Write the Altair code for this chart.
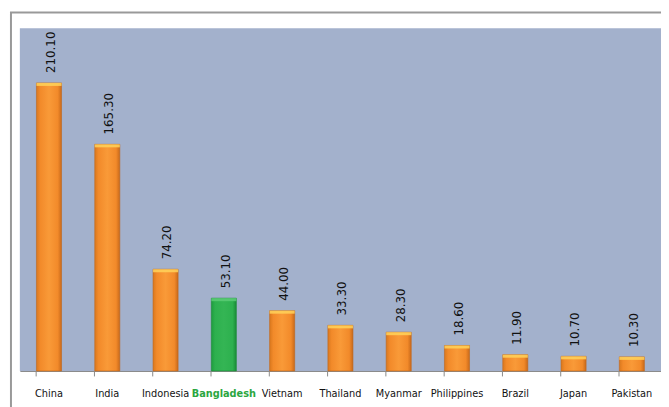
import altair as alt
import pandas as pd

countries = ["China", "India", "Indonesia", "Bangladesh", "Vietnam", "Thailand",
             "Myanmar", "Philippines", "Brazil", "Japan", "Pakistan"]
values = [210.10, 165.30, 74.20, 53.10, 44.00, 33.30, 28.30, 18.60, 11.90, 10.70, 10.30]
highlight = "Bangladesh"

df = pd.DataFrame({"country": countries, "value": values})
df["label"] = df["value"].map(lambda v: f"{v:.2f}")
df["hl"] = df["country"] == highlight

W, H = 649, 347

orange = {"gradient": "linear", "x1": 0, "x2": 1, "y1": 0, "y2": 0,
          "stops": [{"offset": 0, "color": "#D9781E"},
                    {"offset": 0.15, "color": "#F28A2A"},
                    {"offset": 0.5, "color": "#F99A38"},
                    {"offset": 0.85, "color": "#F28A2A"},
                    {"offset": 1, "color": "#C8691A"}]}
green = {"gradient": "linear", "x1": 0, "x2": 1, "y1": 0, "y2": 0,
         "stops": [{"offset": 0, "color": "#1E9C3E"},
                   {"offset": 0.15, "color": "#2DB04E"},
                   {"offset": 0.5, "color": "#34B554"},
                   {"offset": 0.85, "color": "#2DB04E"},
                   {"offset": 1, "color": "#1A8A36"}]}

xscale = alt.Scale(domain=countries, paddingInner=0.57, paddingOuter=0.285)
yscale = alt.Scale(domain=[0, 250], nice=False)

x = alt.X("country:N", sort=countries, scale=xscale, title=None,
          axis=alt.Axis(labelAngle=0, bandPosition=0, ticks=True, tickSize=5,
                        tickColor="#888888", domainColor="#888888", labelPadding=12,
                        labelFont="DejaVu Sans Condensed", labelFontSize=11,
                        labelColor=alt.expr("datum.value == 'Bangladesh' ? '#2BA63F' : '#111111'"),
                        labelFontWeight=alt.expr("datum.value == 'Bangladesh' ? 'bold' : 'normal'"),
                        grid=False))
y = alt.Y("value:Q", scale=yscale, axis=None)

base = alt.Chart(df)

bars_o = base.transform_filter("!datum.hl").mark_bar(color=orange, stroke="#C0661C", strokeWidth=0.6).encode(x=x, y=y)
bars_g = base.transform_filter("datum.hl").mark_bar(color=green, stroke="#1A8A36", strokeWidth=0.6).encode(x=x, y=y)

caps = base.mark_bar(color="#FFD25A", opacity=0.85).encode(
    x=x, y=y, y2=alt.Y2("capb:Q")
).transform_calculate(capb="datum.value - 2.2").transform_filter("!datum.hl")
capsg = base.mark_bar(color="#5CCB76", opacity=0.85).encode(
    x=x, y=y, y2=alt.Y2("capb:Q")
).transform_calculate(capb="datum.value - 2.2").transform_filter("datum.hl")

labels = base.mark_text(angle=270, align="left", baseline="middle", dx=10, dy=2,
                        font="DejaVu Sans", fontSize=12, color="#111111").encode(
    x=x, y=y, text="label:N")

frame = pd.DataFrame({"a": [0]})
border = alt.Chart(frame).mark_rect(fillOpacity=0, stroke="#999999", strokeWidth=2).encode(
    x=alt.value(-9), x2=alt.value(W + 30), y=alt.value(-16), y2=alt.value(H + 60))

chart = alt.layer(bars_o, bars_g, caps, capsg, labels, border).properties(
    width=W, height=H,
    autosize=alt.AutoSizeParams(type="none"),
    padding={"left": 12, "top": 18, "right": 0, "bottom": 34},
    background="white",
).configure_view(fill="#A3B1CC", stroke=None)

chart.save("out.html", embed_options={"renderer": "svg", "actions": False})
